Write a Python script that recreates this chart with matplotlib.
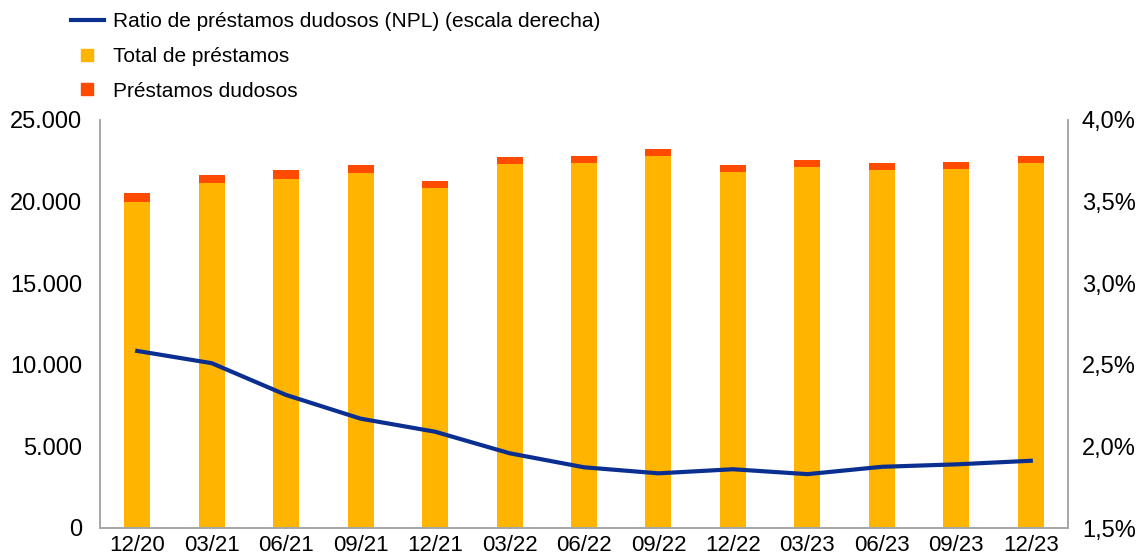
import matplotlib.pyplot as plt
import numpy as np
from matplotlib.lines import Line2D
from matplotlib.ticker import FuncFormatter

plt.rcParams['font.family'] = ['Liberation Sans', 'DejaVu Sans']

# Datos (millones)
trimestres = ['12/20', '03/21', '06/21', '09/21', '12/21', '03/22', '06/22',
              '09/22', '12/22', '03/23', '06/23', '09/23', '12/23']
total_prestamos = [19990, 21120, 21380, 21730, 20810, 22320, 22380,
                   22790, 21790, 22140, 21920, 21980, 22370]
prestamos_dudosos = [560, 510, 560, 490, 470, 410, 430,
                     410, 450, 430, 430, 470, 440]
ratio_npl = [2.585, 2.51, 2.315, 2.17, 2.09, 1.958, 1.872,
             1.835, 1.86, 1.83, 1.875, 1.89, 1.912]

amarillo = '#FFB400'
rojo = '#FF4B00'
azul = '#0B2E91'
gris = '#A6A6A6'

fig = plt.figure(figsize=(11.43, 5.6), dpi=100)
ax = fig.add_axes([100 / 1143, 1 - 528 / 560, 968 / 1143, 408 / 560])

x = np.arange(len(trimestres))
ax.bar(x, total_prestamos, width=0.35, color=amarillo, zorder=2)
ax.bar(x, prestamos_dudosos, width=0.35, bottom=total_prestamos, color=rojo, zorder=2)

ax.set_xlim(-0.5, len(trimestres) - 0.5)
ax.set_ylim(0, 25000)
ax.set_yticks(np.arange(0, 25001, 5000))
ax.yaxis.set_major_formatter(FuncFormatter(lambda v, p: f"{int(v):,}".replace(',', '.')))
ax.set_xticks(x)
ax.set_xticklabels(trimestres)
ax.tick_params(axis='y', length=0, pad=13, labelsize=17)
ax.tick_params(axis='x', length=0, pad=5, labelsize=16)

ax2 = ax.twinx()
ax2.plot(x, ratio_npl, color=azul, linewidth=3, zorder=3)
ax2.set_ylim(1.5, 4.0)
ax2.set_yticks(np.arange(1.5, 4.01, 0.5))
ax2.yaxis.set_major_formatter(FuncFormatter(lambda v, p: f"{v:.1f}%".replace('.', ',')))
ax2.tick_params(axis='y', length=0, pad=10, labelsize=17)

for a in (ax, ax2):
    a.spines['top'].set_visible(False)
    for s in ('left', 'right', 'bottom'):
        a.spines[s].set_color(gris)
        a.spines[s].set_linewidth(1.2)

handles = [
    Line2D([], [], color=azul, linewidth=3),
    Line2D([], [], marker='s', linestyle='none', color=amarillo, markersize=8),
    Line2D([], [], marker='s', linestyle='none', color=rojo, markersize=8),
]
labels = ['Ratio de préstamos dudosos (NPL) (escala derecha)',
          'Total de préstamos', 'Préstamos dudosos']
fig.legend(handles, labels, loc='upper left', bbox_to_anchor=(58 / 1143, 1.0),
           frameon=False, fontsize=15, handlelength=1.6, handletextpad=0.45,
           labelspacing=0.75, borderaxespad=0.2)

fig.savefig('out.png', dpi=100)
